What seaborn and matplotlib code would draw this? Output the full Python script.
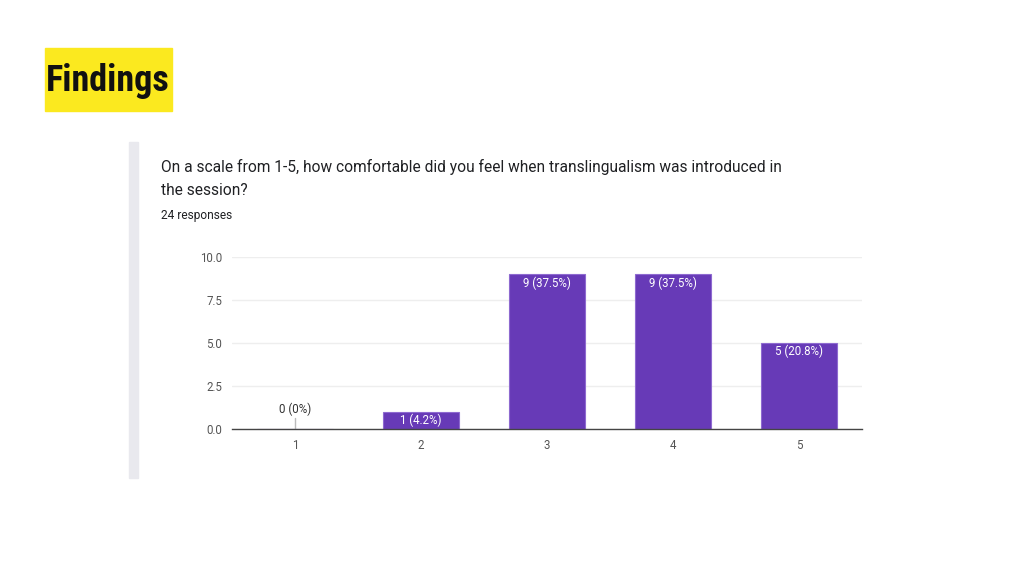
import pandas as pd
import seaborn as sns
import matplotlib.pyplot as plt
from matplotlib.patches import Rectangle

# survey data
scale = ["1", "2", "3", "4", "5"]
counts = [0, 1, 9, 9, 5]
percent = ["0%", "4.2%", "37.5%", "37.5%", "20.8%"]
y_ticks = [0.0, 2.5, 5.0, 7.5, 10.0]

question = ("On a scale from 1-5, how comfortable did you feel when translingualism was introduced in\n"
            "the session?")
responses = "24 responses"

df = pd.DataFrame({"scale": scale, "count": counts})

sns.set_theme(style="white")
plt.rcParams['font.family'] = ['Roboto', 'DejaVu Sans']

fig = plt.figure(figsize=(10.24, 5.76), dpi=100)
fig.patch.set_facecolor("white")

# title box
fig.patches.append(Rectangle((45/1024, 1-111/576), 127/1024, 63/576,
                             transform=fig.transFigure, color="#fbe91f", zorder=0))
fig.text(108/1024, 1-81/576, "Findings", ha="center", va="center", fontsize=26,
         family=['Roboto Condensed', 'DejaVu Sans'], stretch="condensed",
         weight="bold", color="#111111")

# gray side bar of the form card
fig.patches.append(Rectangle((129/1024, 1-478/576), 9/1024, 336/576,
                             transform=fig.transFigure, color="#e9e9ee", zorder=0))

fig.text(161/1024, 1-159/576, question, ha="left", va="top", fontsize=11.2,
         color="#202124", linespacing=1.7)
fig.text(161/1024, 1-216/576, responses, ha="left", va="center", fontsize=8.6,
         color="#202124")

ax = fig.add_axes([232/1024, 1-429/576, 630/1024, 172/576])
sns.barplot(data=df, x="scale", y="count", color="#673ab7", saturation=1,
            width=0.61, edgecolor="#8e6ad0", linewidth=0.8, ax=ax)
ax.set_xlim(-0.5, 4.5)
ax.set_ylim(0, 10)
ax.set_yticks(y_ticks)
ax.set_yticklabels([f"{v:.1f}" for v in y_ticks])
ax.set_xlabel("")
ax.set_ylabel("")
ax.grid(axis="y", color="#eeeeee", linewidth=1)
ax.set_axisbelow(True)
for s in ["top", "right", "left"]:
    ax.spines[s].set_visible(False)
ax.spines["bottom"].set_color("#444444")
ax.spines["bottom"].set_linewidth(1)
ax.tick_params(axis="both", length=0, labelsize=8.3, labelcolor="#555555", pad=7)

for i, (c, p) in enumerate(zip(counts, percent)):
    label = f"{c} ({p})"
    if c == 0:
        ax.plot([i, i], [0, 0.65], color="#bbbbbb", linewidth=1)
        ax.text(i, 0.75, label, ha="center", va="bottom", fontsize=8.3, color="#333333")
    else:
        ax.text(i, c - 0.12, label, ha="center", va="top", fontsize=8.3, color="white")

fig.savefig("out.png", dpi=100)
